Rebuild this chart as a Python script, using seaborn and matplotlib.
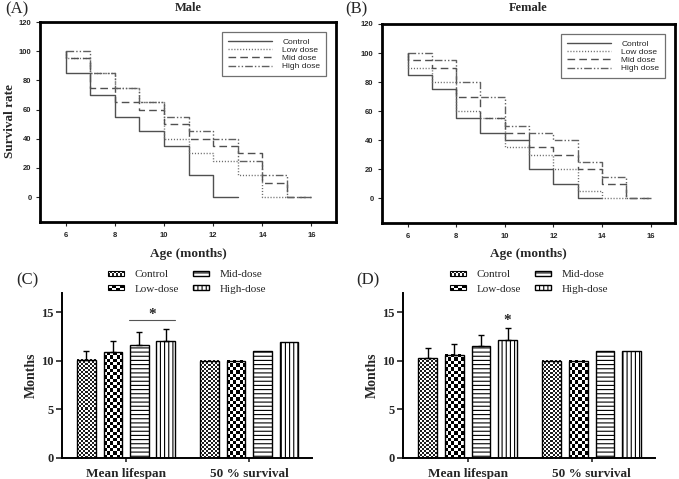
import numpy as np
import pandas as pd
import matplotlib
matplotlib.use('Agg')
import matplotlib.pyplot as plt
import seaborn as sns
from matplotlib.patches import Rectangle
from matplotlib.colors import ListedColormap
from matplotlib.legend_handler import HandlerPatch

# ---- survival curves (% alive in each month interval, starting at 6 months) ----
groups = ['Control', 'Low dose', 'Mid dose', 'High dose']
male_control = [85, 70, 55, 45, 35, 15, 0]
male_low = [95, 85, 75, 65, 40, 30, 25, 15, 0]
male_mid = [95, 75, 65, 60, 50, 40, 35, 30, 10, 0]
male_high = [100, 85, 75, 65, 55, 45, 40, 25, 15, 0]
female_control = [85, 75, 55, 45, 40, 20, 10, 0]
female_low = [90, 80, 60, 55, 35, 30, 20, 5, 0]
female_mid = [95, 90, 70, 55, 45, 35, 30, 20, 10, 0]
female_high = [100, 95, 80, 70, 50, 45, 40, 25, 15, 0]
age_ticks = [6, 8, 10, 12, 14, 16]
rate_ticks = [0, 20, 40, 60, 80, 100, 120]

# ---- lifespan bars ----
bar_groups = ['Control', 'Low-dose', 'Mid-dose', 'High-dose']
measures = ['Mean lifespan', '50 % survival']
c_mean = [10.1, 10.9, 11.6, 12.05]
c_mean_sd = [0.9, 1.2, 1.35, 1.25]
c_half = [10, 10, 11, 12]
d_mean = [10.3, 10.65, 11.5, 12.2]
d_mean_sd = [1.05, 1.1, 1.2, 1.15]
d_half = [10, 10, 11, 11]
month_ticks = [0, 5, 10, 15]

sns.set_style('ticks')
SERIF = 'Liberation Serif'
SANS = 'Liberation Sans'
plt.rcParams['font.family'] = [SERIF, 'DejaVu Serif']
plt.rcParams['hatch.linewidth'] = 0.8

W, H = 679, 479
fig = plt.figure(figsize=(W / 100, H / 100), dpi=100)


def rect(l, t, r, b):
    return [l / W, 1 - b / H, (r - l) / W, (b - t) / H]


def ftext(x, y, s, **kw):
    fig.text(x / W, 1 - y / H, s, **kw)


line_colors = {'Control': '#505050', 'Low dose': '#6a6a6a',
               'Mid dose': '#505050', 'High dose': '#606060'}
line_dashes = {'Control': '', 'Low dose': (0.8, 1.3), 'Mid dose': (5.5, 3),
               'High dose': (5.5, 1.5, 1, 1.5, 1, 1.5)}


def survival_panel(ax, rates, title, letter, lx):
    rows = []
    for g, vals in zip(groups, rates):
        n = len(vals)
        ages = [6] + [6 + i for i in range(n)] + [6 + n]
        ys = [100] + vals + [vals[-1]]
        rows += [(g, a, y) for a, y in zip(ages, ys)]
    df = pd.DataFrame(rows, columns=['group', 'age', 'rate'])
    sns.lineplot(data=df, x='age', y='rate', hue='group', style='group',
                 hue_order=groups, style_order=groups, palette=line_colors,
                 dashes=line_dashes, estimator=None, sort=False,
                 drawstyle='steps-post', lw=1, legend=False, ax=ax)
    ax.set_xlim(4.95, 17)
    ax.set_ylim(-17, 120)
    ax.set_xticks(age_ticks)
    ax.set_yticks(rate_ticks)
    ax.set_xlabel('')
    ax.set_ylabel('')
    for s in ax.spines.values():
        s.set_linewidth(2)
        s.set_color('black')
    ax.tick_params(direction='out', length=3, width=0.8, labelsize=5.5,
                   top=False, right=False, pad=3)
    ax.tick_params(axis='x', pad=4.5)
    for t in ax.get_xticklabels() + ax.get_yticklabels():
        t.set_fontweight('bold')
        t.set_fontfamily(SANS)
    leg = ax.legend(ax.lines[:4], groups, loc='upper right',
                    prop={'family': SANS, 'size': 6}, handlelength=5.3,
                    handletextpad=1.2, labelspacing=0.05, borderpad=0.7,
                    borderaxespad=1.2, fancybox=False, framealpha=1)
    leg.get_frame().set_edgecolor('#707070')
    leg.get_frame().set_linewidth(0.9)
    pos = ax.get_position()
    cx = (pos.x0 + pos.x1) / 2 * W
    ftext(cx, 8, title, ha='center', va='center', fontsize=9, fontweight='bold')
    ftext(lx, 9, letter, ha='left', va='center', fontsize=12)
    ftext(cx, 254, 'Age (months)', ha='center', va='center', fontsize=9.5,
          fontweight='bold')


class CheckerHandler(HandlerPatch):
    def __init__(self, nx, ny, dark):
        super().__init__()
        self.nx, self.ny, self.dark = nx, ny, dark

    def create_artists(self, legend, orig_handle, xdescent, ydescent,
                       width, height, fontsize, trans):
        arts = []
        w, h = width / self.nx, height / self.ny
        for i in range(self.nx):
            for j in range(self.ny):
                if (i + j) % 2 == 0:
                    arts.append(Rectangle((-xdescent + i * w, -ydescent + j * h), w, h,
                                          facecolor=self.dark, edgecolor='none',
                                          transform=trans))
        arts.append(Rectangle((-xdescent, -ydescent), width, height,
                              facecolor='none', edgecolor='black', lw=0.8,
                              transform=trans))
        return arts


def checker_fill(ax, patch, cell_px, dark):
    bb = patch.get_window_extent()
    nx = max(1, int(round(bb.width / cell_px)))
    ny = max(1, int(round(bb.height / cell_px)))
    img = np.add.outer(np.arange(ny), np.arange(nx)) % 2
    x0, y0 = patch.get_x(), patch.get_y()
    ax.imshow(img, cmap=ListedColormap([dark, 'white']), origin='lower',
              extent=(x0, x0 + patch.get_width(), y0, y0 + patch.get_height()),
              aspect='auto', interpolation='nearest', zorder=patch.get_zorder() - 0.1)
    patch.set_facecolor('none')


def bar_panel(ax, means, sds, halves, letter, lx, star):
    df = pd.DataFrame({'measure': np.repeat(measures, 4),
                       'group': bar_groups * 2,
                       'months': means + halves})
    sns.barplot(data=df, x='measure', y='months', hue='group', order=measures,
                hue_order=bar_groups, palette={g: 'white' for g in bar_groups},
                width=0.86, gap=0.3, edgecolor='black', linewidth=1,
                errorbar=None, legend=False, ax=ax)
    ax.set_xlim(-0.52, 1.51)
    ax.set_ylim(0, 17)
    ax.set_yticks(month_ticks)
    for p in ax.containers[2]:
        p.set_hatch('----')
    for p in ax.containers[3]:
        p.set_hatch('||||')
    for p in ax.containers[0]:
        checker_fill(ax, p, 2, '#1e1e1e')
    for p in ax.containers[1]:
        checker_fill(ax, p, 3.3, 'black')
    ax.set_xlim(-0.52, 1.51)
    ax.set_ylim(0, 17)

    xs = [c.patches[0].get_x() + c.patches[0].get_width() / 2 for c in ax.containers]
    ax.errorbar(xs, means, yerr=[np.zeros(len(sds)), sds], fmt='none',
                ecolor='black', elinewidth=1, capsize=2.5, capthick=1, zorder=3)

    if star == 'pair':
        mid, high = ax.containers[2].patches[0], ax.containers[3].patches[0]
        x0, x1 = mid.get_x() - 0.01, high.get_x() + high.get_width()
        ax.plot([x0, x1], [14.2, 14.2], color='#555555', lw=0.8)
        ax.text((x0 + x1) / 2, 14.8, '*', ha='center', va='center',
                fontsize=11, fontweight='bold')
    else:
        ax.text(xs[3], 14.2, '*', ha='center', va='center', fontsize=11,
                fontweight='bold')

    ax.set_xlabel('')
    ax.set_ylabel('')
    sns.despine(ax=ax)
    for s in ('left', 'bottom'):
        ax.spines[s].set_linewidth(1.4)
        ax.spines[s].set_color('black')
    ax.tick_params(axis='y', direction='out', length=4, width=1.2, labelsize=9, pad=2)
    ax.tick_params(axis='x', direction='out', length=3, width=1.2, labelsize=9.5, pad=4)
    for t in ax.get_xticklabels() + ax.get_yticklabels():
        t.set_fontweight('bold')

    handles = list(ax.containers)
    ax.legend(handles, bar_groups, ncol=2, loc='center',
              bbox_to_anchor=(0.5, 1.067), frameon=False, fontsize=8,
              handlelength=1.45, handleheight=0.3, handletextpad=1.0,
              labelspacing=0.5, columnspacing=1.2,
              handler_map={handles[0]: CheckerHandler(8, 2, '#1e1e1e'),
                           handles[1]: CheckerHandler(4, 2, 'black')})
    ftext(lx, 280, letter, ha='left', va='center', fontsize=12)


ax_a = fig.add_axes(rect(40, 22, 336, 222))
ax_b = fig.add_axes(rect(382, 24, 675, 223))
ax_c = fig.add_axes(rect(62, 293, 312, 458))
ax_d = fig.add_axes(rect(403, 293, 655, 458))

survival_panel(ax_a, [male_control, male_low, male_mid, male_high], 'Male', '(A)', 5)
survival_panel(ax_b, [female_control, female_low, female_mid, female_high], 'Female', '(B)', 345)
ftext(10, 121, 'Survival rate', ha='center', va='center', rotation=90,
      fontsize=9.5, fontweight='bold')

bar_panel(ax_c, c_mean, c_mean_sd, c_half, '(C)', 16, 'pair')
bar_panel(ax_d, d_mean, d_mean_sd, d_half, '(D)', 356, 'single')
ftext(31, 375, 'Months', ha='center', va='center', rotation=90, fontsize=10,
      fontweight='bold')
ftext(372, 375, 'Months', ha='center', va='center', rotation=90, fontsize=10,
      fontweight='bold')

fig.savefig('out.png', dpi=100)
